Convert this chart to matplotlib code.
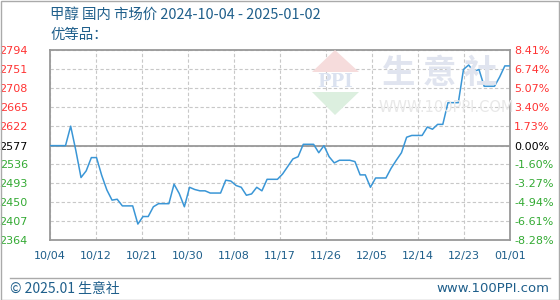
import numpy as np
import matplotlib
matplotlib.use('Agg')
from matplotlib import pyplot as plt
from matplotlib.patches import Rectangle, Polygon
from matplotlib.lines import Line2D

plt.rcParams['font.family'] = ['Noto Sans CJK SC', 'DejaVu Sans']

#%% Data (day offset from 2024-10-04, price in yuan/t)
days = [0, 3, 4, 5, 6, 7, 8, 9, 10, 11, 12, 13, 14, 16, 17, 18, 19, 20, 21,
        23, 24, 25, 26, 27, 28, 29, 30, 31, 33, 34, 35, 36, 37, 38, 39, 40,
        41, 42, 44, 45, 47, 48, 49, 51, 52, 53, 54, 55, 56, 58, 59, 60, 61,
        62, 63, 65, 66, 67, 68, 69, 70, 72, 73, 74, 75, 76, 77, 79, 80, 81,
        82, 83, 84, 86, 87, 88, 89]
prices = [2577, 2577, 2621, 2566, 2505, 2520, 2550, 2550, 2510, 2477, 2454,
          2456, 2441, 2441, 2400, 2417, 2417, 2439, 2446, 2446, 2490, 2469,
          2439, 2483, 2478, 2475, 2475, 2470, 2470, 2499, 2497, 2487, 2483,
          2465, 2468, 2483, 2475, 2501, 2501, 2513, 2547, 2552, 2580, 2580,
          2561, 2577, 2552, 2538, 2544, 2544, 2541, 2511, 2511, 2483, 2504,
          2504, 2526, 2544, 2561, 2596, 2600, 2600, 2619, 2614, 2625, 2625,
          2674, 2674, 2749, 2759, 2744, 2749, 2711, 2711, 2732, 2757, 2757]

x_labels = ['10/04', '10/12', '10/21', '10/30', '11/08', '11/17', '11/26',
            '12/05', '12/14', '12/23', '01/01']
y_ticks = [2364, 2407, 2450, 2493, 2536, 2577, 2622, 2665, 2708, 2751, 2794]
pct_labels = ['-8.28%', '-6.61%', '-4.94%', '-3.27%', '-1.60%', '0.00%',
              '1.73%', '3.40%', '5.07%', '6.74%', '8.41%']
base = 2577

title = '甲醇 国内 市场价 2024-10-04 - 2025-01-02'
subtitle = '优等品：'

#%% Colors
BLUE_TXT = '#1f5f8b'
RED = '#ff3333'
GREEN = '#33aa33'
GRID = '#c8c8c8'
SPINE = '#999999'
LINE = '#3a96d6'

def lab_color(v):
    if v > base:
        return RED
    if v < base:
        return GREEN
    return 'black'

#%% Figure
W, H = 560, 300
fig = plt.figure(figsize=(W / 100, H / 100), dpi=100)
ax = fig.add_axes([50 / W, 60 / H, 460 / W, 190.5 / H])

# watermark (drawn in figure coords, behind the line)
def fx(x): return x / W
def fy(y): return 1 - y / H

fig.patches.append(Polygon([[fx(335), fy(50)], [fx(312), fy(72)], [fx(359), fy(72)]],
                           closed=True, transform=fig.transFigure,
                           facecolor='#f6dcdc', edgecolor='none', zorder=0))
fig.patches.append(Polygon([[fx(335), fy(115)], [fx(312), fy(92)], [fx(359), fy(92)]],
                           closed=True, transform=fig.transFigure,
                           facecolor='#dcefdf', edgecolor='none', zorder=0))
fig.text(fx(335), fy(82), 'PPI', color='#dbe2f0', fontsize=13, fontweight='bold',
         ha='center', va='center', family='DejaVu Serif', zorder=0)
fig.text(fx(440), fy(73), '生 意 社', color='#e0e4ef', fontsize=24, fontweight='bold',
         ha='center', va='center', zorder=0)
fig.text(fx(446), fy(107), 'WWW.100PPI.COM', color='#e8e8e8', fontsize=10.5,
         ha='center', va='center', family='DejaVu Sans', zorder=0)
ax.set_facecolor('none')

ax.plot(days, prices, color=LINE, lw=1.1, zorder=3)

ax.set_xlim(0, 89)
ax.set_ylim(2364, 2794)
xt = np.linspace(0, 89, len(x_labels))
ax.set_xticks(xt)
ax.set_xticklabels(x_labels, color=BLUE_TXT, fontsize=8, family='DejaVu Sans')
ax.set_yticks(y_ticks)
ax.set_yticklabels([str(v) for v in y_ticks], fontsize=8, family='DejaVu Sans')
for lab, v in zip(ax.get_yticklabels(), y_ticks):
    lab.set_color(lab_color(v))
ax.tick_params(axis='both', length=0)
ax.tick_params(axis='y', pad=16)
ax.tick_params(axis='x', pad=8)

ax.grid(True, color=GRID, ls=(0, (3, 2)), lw=0.8)
ax.axhline(base, color=SPINE, lw=1.3, zorder=2)
for s in ax.spines.values():
    s.set_color(SPINE)
    s.set_linewidth(1.3)

ax2 = ax.twinx()
ax2.set_ylim(ax.get_ylim())
ax2.set_yticks(y_ticks)
ax2.set_yticklabels(pct_labels, fontsize=8, family='DejaVu Sans')
for lab, v in zip(ax2.get_yticklabels(), y_ticks):
    lab.set_color(lab_color(v))
ax2.tick_params(axis='y', length=0, pad=3)
for s in ax2.spines.values():
    s.set_visible(False)

# titles
fig.text(fx(50), fy(15), title, color=BLUE_TXT, fontsize=10.4, va='center')
fig.text(fx(50), fy(35), subtitle, color=BLUE_TXT, fontsize=10.4, va='center')

# footer
fig.lines.append(Line2D([fx(10), fx(550)], [fy(277.5), fy(277.5)],
                        transform=fig.transFigure, color='#aaaaaa', lw=1))
fig.text(fx(10), fy(289), '© 2025.01 生意社', color=BLUE_TXT, fontsize=10, va='center')
fig.text(fx(549), fy(289), 'www.100PPI.com', color=BLUE_TXT, fontsize=9.5,
         va='center', ha='right', family='DejaVu Sans')

# outer frame
fig.patches.append(Rectangle((0.5 / W, 0.5 / H), 1 - 1.5 / W, 1 - 1.5 / H,
                             transform=fig.transFigure, fill=False,
                             edgecolor='#aaaaaa', lw=1))

fig.savefig('out.png', dpi=100)
